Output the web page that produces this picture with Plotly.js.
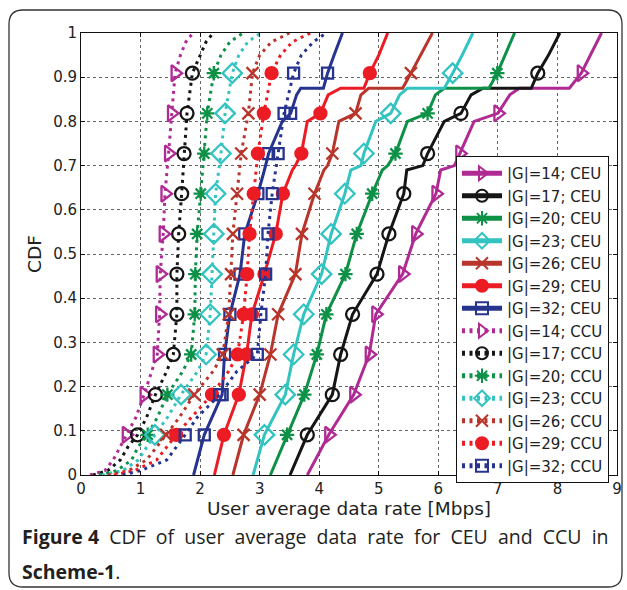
<!DOCTYPE html>
<html><head><meta charset="utf-8">
<script src="https://cdn.plot.ly/plotly-3.0.1.min.js"></script>
<style>html,body{margin:0;padding:0;background:#fff}</style>
</head><body><div id="chart" style="width:627px;height:590px"></div>
<script>
// ---------- DATA ----------
const groupSizes = ['14', '17', '20', '23', '26', '29', '32'];
const markerLevels = [0.0909, 0.1818, 0.2727, 0.3636, 0.4545, 0.5454, 0.6364, 0.7273, 0.8182, 0.9091];

// CEU (cell-edge users), solid lines
const ceuY = [0, 0.0909, 0.1818, 0.2727, 0.3636, 0.4545, 0.5454, 0.6364, 0.69, 0.70, 0.7273, 0.80, 0.8182, 0.86, 0.875, 0.875, 0.9091, 0.95, 1];
const ceuX14 = [3.80, 4.16, 4.58, 4.84, 4.95, 5.40, 5.62, 5.96, 6.04, 6.27, 6.36, 6.60, 7.00, 7.20, 7.36, 8.20, 8.40, 8.55, 8.74];
const ceuX17 = [3.51, 3.80, 4.22, 4.36, 4.56, 4.97, 5.17, 5.42, 5.47, 5.74, 5.82, 6.10, 6.38, 6.55, 6.75, 7.56, 7.67, 7.85, 8.04];
const ceuX20 = [3.18, 3.46, 3.75, 3.96, 4.12, 4.44, 4.63, 4.89, 5.06, 5.15, 5.28, 5.48, 5.82, 5.95, 6.10, 6.85, 6.99, 7.12, 7.28];
const ceuX23 = [2.89, 3.08, 3.43, 3.57, 3.74, 4.04, 4.20, 4.43, 4.53, 4.70, 4.75, 4.95, 5.20, 5.35, 5.48, 6.10, 6.24, 6.40, 6.58];
const ceuX26 = [2.55, 2.73, 3.00, 3.18, 3.31, 3.60, 3.71, 3.92, 4.08, 4.14, 4.22, 4.33, 4.61, 4.70, 4.83, 5.40, 5.54, 5.70, 5.90];
const ceuX29 = [2.24, 2.40, 2.65, 2.78, 2.87, 3.08, 3.27, 3.39, 3.55, 3.60, 3.70, 3.80, 4.02, 4.15, 4.36, 4.75, 4.85, 5.00, 5.15];
const ceuX32 = [1.89, 2.07, 2.37, 2.41, 2.50, 2.67, 2.75, 2.97, 3.08, 3.10, 3.15, 3.38, 3.52, 3.62, 3.69, 4.07, 4.14, 4.25, 4.39];

// CCU (cell-centre users), dotted lines
const ccuY = [0, 0.01, 0.034, 0.064, 0.0909, 0.13, 0.1818, 0.235, 0.2727, 0.3636, 0.4545, 0.5454, 0.6364, 0.7273, 0.8182, 0.9091, 0.95, 0.98, 1];
const ccuX14 = [0.15, 0.40, 0.54, 0.66, 0.76, 0.92, 1.06, 1.19, 1.28, 1.32, 1.33, 1.38, 1.41, 1.47, 1.52, 1.58, 1.67, 1.76, 1.88];
const ccuX17 = [0.20, 0.45, 0.66, 0.79, 0.95, 1.10, 1.25, 1.44, 1.55, 1.61, 1.61, 1.64, 1.69, 1.73, 1.78, 1.87, 2.00, 2.10, 2.22];
const ccuX20 = [0.30, 0.60, 0.85, 0.96, 1.12, 1.28, 1.45, 1.71, 1.85, 1.91, 1.92, 1.95, 2.01, 2.07, 2.12, 2.23, 2.35, 2.50, 2.72];
const ccuX23 = [0.35, 0.70, 0.96, 1.10, 1.24, 1.45, 1.68, 1.96, 2.10, 2.17, 2.20, 2.23, 2.26, 2.35, 2.42, 2.54, 2.65, 2.80, 3.02];
const ccuX26 = [0.45, 0.80, 1.10, 1.28, 1.43, 1.65, 1.90, 2.22, 2.38, 2.48, 2.52, 2.55, 2.62, 2.69, 2.81, 2.88, 3.00, 3.20, 3.50];
const ccuX29 = [0.55, 0.90, 1.27, 1.44, 1.60, 1.85, 2.20, 2.48, 2.63, 2.73, 2.79, 2.83, 2.90, 2.97, 3.07, 3.20, 3.35, 3.55, 3.85];
const ccuX32 = [0.70, 1.00, 1.44, 1.61, 1.75, 1.95, 2.33, 2.62, 2.96, 3.02, 3.10, 3.14, 3.21, 3.31, 3.41, 3.57, 3.70, 3.90, 4.12];

const xTickVals = [0, 1, 2, 3, 4, 5, 6, 7, 8, 9];
const yTickVals = [0, 0.1, 0.2, 0.3, 0.4, 0.5, 0.6, 0.7, 0.8, 0.9, 1];
const yTickText = ['0', '0.1', '0.2', '0.3', '0.4', '0.5', '0.6', '0.7', '0.8', '0.9', '1'];
const captionWords = ['CDF', 'of', 'user', 'average', 'data', 'rate', 'for', 'CEU', 'and', 'CCU', 'in'];

// ---------- STYLE ----------
const colors = ['#B02A94', '#151515', '#0C9147', '#33C3C0', '#B8352B', '#EC1C24', '#27348F'];
const symbols = ['triangle-right-open', 'circle-open', 'asterisk-open', 'diamond-open', 'x-thin-open', 'circle', 'square-open'];
const msizes = [14, 13, 12, 15, 12, 12, 11];
const ceuXs = [ceuX14, ceuX17, ceuX20, ceuX23, ceuX26, ceuX29, ceuX32];
const ccuXs = [ccuX14, ccuX17, ccuX20, ccuX23, ccuX26, ccuX29, ccuX32];

function isMarker(y) { return markerLevels.some(l => Math.abs(l - y) < 0.0005); }

function makeTrace(name, xs, ys, i, dotted) {
  const flags = ys.map(isMarker);
  return {
    type: 'scatter', mode: 'lines+markers', name: name,
    x: xs, y: ys,
    line: { color: colors[i], width: 3, dash: dotted ? '3px,4.5px' : 'solid' },
    marker: {
      symbol: symbols[i], color: colors[i], opacity: 1,
      size: flags.map(f => f ? msizes[i] : 0),
      line: { color: colors[i], width: flags.map(f => f ? 2.3 : 0) }
    }
  };
}

const traces = [];
groupSizes.forEach((g, i) => traces.push(makeTrace('|G|=' + g + '; CEU', ceuXs[i], ceuY, i, false)));
groupSizes.forEach((g, i) => traces.push(makeTrace('|G|=' + g + '; CCU', ccuXs[i], ccuY, i, true)));

// plot-area pixel geometry
const W = 627, H = 590, ML = 81, MR = 10, MT = 33, MB = 115;
const PW = W - ML - MR, PH = H - MT - MB;
const px = v => (v - ML) / PW;
const py = v => (H - MB - v) / PH;

// rounded frame around the figure
const fl = 9, fr = 622, ft = 10, fb = 587, rad = 14;
const rx = rad / PW, ry = rad / PH;
const L = px(fl), R = px(fr), T = py(ft), B = py(fb);
const framePath = `M${L + rx},${T} L${R - rx},${T} Q${R},${T} ${R},${T - ry} L${R},${B + ry} Q${R},${B} ${R - rx},${B} L${L + rx},${B} Q${L},${B} ${L},${B + ry} L${L},${T - ry} Q${L},${T} ${L + rx},${T} Z`;

const tickFont = { family: 'DejaVu Sans', size: 15, color: '#222' };
const gap = '\u00A0\u00A0';
const cap1 = '<b>Figure\u00A04</b>' + gap + captionWords.join(gap);

const layout = {
  width: W, height: H,
  margin: { l: ML, r: MR, t: MT, b: MB, pad: 0 },
  paper_bgcolor: '#fff', plot_bgcolor: '#fff',
  showlegend: true,
  legend: {
    x: px(456), y: py(156), xanchor: 'left', yanchor: 'top',
    bgcolor: '#fff', bordercolor: '#111', borderwidth: 1,
    font: { family: 'DejaVu Sans', size: 15, color: '#222' },
    itemsizing: 'constant', itemwidth: 40, tracegroupgap: 0
  },
  xaxis: {
    range: [0, 9], tickvals: xTickVals, ticks: 'inside', ticklen: 4, tickcolor: '#111',
    showline: true, linecolor: '#111', linewidth: 1, mirror: 'ticks',
    showgrid: true, gridcolor: '#666', griddash: 'dot', gridwidth: 1, zeroline: false,
    tickfont: tickFont, automargin: false,
    title: { text: 'User average data rate [Mbps]', font: { family: 'DejaVu Sans', size: 18.5, color: '#222' }, standoff: 2 }
  },
  yaxis: {
    range: [0, 1], tickvals: yTickVals, ticktext: yTickText, ticks: 'inside', ticklen: 4, tickcolor: '#111',
    showline: true, linecolor: '#111', linewidth: 1, mirror: 'ticks',
    showgrid: true, gridcolor: '#666', griddash: 'dot', gridwidth: 1, zeroline: false,
    tickfont: tickFont, automargin: false,
    title: { text: 'CDF', font: { family: 'DejaVu Sans', size: 18.5, color: '#222' }, standoff: 6 }
  },
  shapes: [{ type: 'path', xref: 'paper', yref: 'paper', path: framePath, line: { color: '#333', width: 1.3 }, layer: 'below' }],
  annotations: [
    { xref: 'paper', yref: 'paper', x: px(20), y: py(536), xanchor: 'left', yanchor: 'middle', showarrow: false,
      text: cap1, font: { family: 'Open Sans', size: 19.5, color: '#231f20' } },
    { xref: 'paper', yref: 'paper', x: px(20), y: py(571), xanchor: 'left', yanchor: 'middle', showarrow: false,
      text: '<b>Scheme-1</b>.', font: { family: 'Open Sans', size: 19.5, color: '#231f20' } }
  ]
};

Plotly.newPlot('chart', traces, layout, { displayModeBar: false, staticPlot: true });
</script>
</body></html>
